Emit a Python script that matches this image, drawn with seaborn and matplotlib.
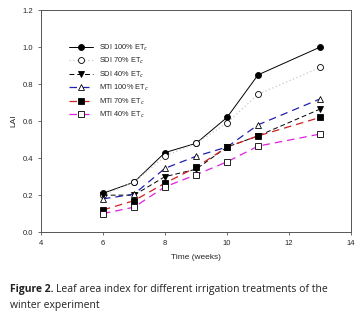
import matplotlib
matplotlib.use("Agg")
import matplotlib.pyplot as plt
import seaborn as sns
import pandas as pd

# Leaf area index, winter experiment
weeks = [6, 7, 8, 9, 10, 11, 13]
sdi_100 = [0.21, 0.27, 0.43, 0.48, 0.62, 0.85, 1.00]
sdi_70 = [0.20, 0.27, 0.41, 0.48, 0.59, 0.745, 0.89]
sdi_40 = [0.20, 0.20, 0.30, 0.34, 0.46, 0.52, 0.665]
mti_100 = [0.18, 0.205, 0.345, 0.41, 0.46, 0.58, 0.72]
mti_70 = [0.12, 0.17, 0.265, 0.35, 0.46, 0.52, 0.62]
mti_40 = [0.10, 0.135, 0.245, 0.31, 0.38, 0.465, 0.53]

labels = ["SDI 100% ET$_c$", "SDI 70% ET$_c$", "SDI 40% ET$_c$",
          "MTI 100% ET$_c$", "MTI 70% ET$_c$", "MTI 40% ET$_c$"]
series = [sdi_100, sdi_70, sdi_40, mti_100, mti_70, mti_40]

# line colour, dash, marker, marker face
styles = [
    ("black", "-", "o", "black"),
    ("#c8c8c8", (0, (1, 2)), "o", "white"),
    ("black", (0, (5, 3)), "v", "black"),
    ("#2020b0", (0, (6, 4)), "^", "white"),
    ("#d02020", (0, (6, 4)), "s", "black"),
    ("#e020e0", (0, (6, 4)), "s", "white"),
]

sns.set_style("ticks")
plt.rcParams['font.family'] = ['Liberation Sans', 'DejaVu Sans']

fig = plt.figure(figsize=(3.62, 3.15), dpi=100)
ax = fig.add_axes([0.113, 0.263, 0.857, 0.705])

for lab, vals, (col, ls, mk, face) in zip(labels, series, styles):
    df = pd.DataFrame({"Time": weeks, "LAI": vals})
    sns.lineplot(data=df, x="Time", y="LAI", ax=ax, color=col, linestyle=ls,
                 linewidth=0.9 if col != "black" else 0.7,
                 marker=mk, markersize=4.3, markerfacecolor=face,
                 markeredgecolor="black", markeredgewidth=0.6, label=lab)

ax.set_xlim(4, 14)
ax.set_ylim(0, 1.2)
ax.set_xticks([4, 6, 8, 10, 12, 14])
ax.set_yticks([0.0, 0.2, 0.4, 0.6, 0.8, 1.0, 1.2])
ax.set_yticklabels([f"{v:.1f}" for v in ax.get_yticks()])
ax.tick_params(labelsize=5.5, length=2.5, width=0.6, color="#555555", pad=3)
for s in ax.spines.values():
    s.set_linewidth(0.7)
    s.set_color("#555555")
ax.set_xlabel("Time (weeks)", fontsize=6, labelpad=5)
ax.set_ylabel("LAI", fontsize=6, labelpad=4)

ax.legend(loc="upper left", bbox_to_anchor=(0.082, 0.868), frameon=False,
          fontsize=5.3, handlelength=3.2, labelspacing=0.45, handletextpad=0.9,
          borderaxespad=0)

# caption
fig.canvas.draw()
cap_font = ['Open Sans', 'DejaVu Sans']
t1 = fig.text(0.027, 0.072, "Figure 2.", fontsize=7.5, fontweight="bold",
              family=cap_font, color="#222222")
fig.canvas.draw()
bb = t1.get_window_extent()
x_next = (bb.x1 + 2.5) / fig.bbox.width
fig.text(x_next, 0.072, "Leaf area index for different irrigation treatments of the",
         fontsize=7.5, family=cap_font, color="#222222")
fig.text(0.027, 0.022, "winter experiment", fontsize=7.5, family=cap_font,
         color="#222222")

fig.savefig("out.png", dpi=100)
